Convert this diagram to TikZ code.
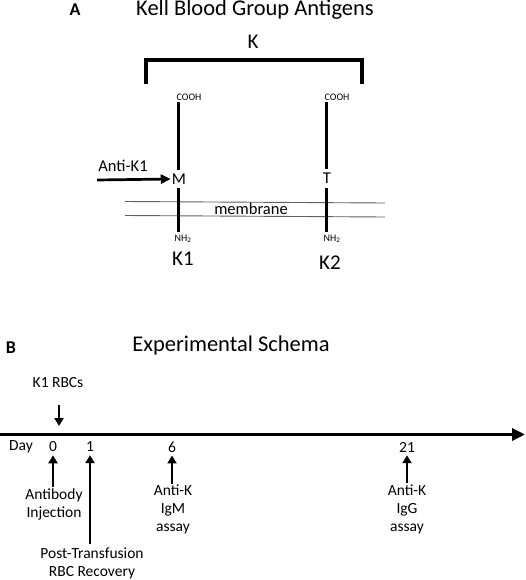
\documentclass[tikz,border=0pt]{standalone}
\usepackage{fontspec}
\setmainfont{Carlito}
\usetikzlibrary{arrows.meta}
\tikzset{
  lbl/.style={inner sep=0pt, font=\fontsize{15.5}{18}\selectfont, align=center},
  ttl/.style={inner sep=0pt, font=\fontsize{22.5}{25}\selectfont},
  panel/.style={inner sep=0pt, font=\fontsize{18}{20}\selectfont\bfseries},
  big/.style={inner sep=0pt, font=\fontsize{21}{23}\selectfont},
  mid/.style={inner sep=0pt, font=\fontsize{16.5}{18}\selectfont},
  tiny/.style={inner sep=0pt, font=\fontsize{10}{11}\selectfont},
  prot/.style={line width=3pt},
  memb/.style={draw=gray!75!black, line width=0.9pt},
  arr/.style={line width=2.7pt, -{Triangle[length=8pt,width=9pt]}},
}
\begin{document}
\begin{tikzpicture}[x=1pt,y=-1pt]
\useasboundingbox (0,0) rectangle (525,580);
% Panel A
\node[panel] (A) at (75,10) {A};
\node[ttl] (titleA) at (255,10) {Kell Blood Group Antigens};
\node[big] (K) at (253,42) {K};
\coordinate (bl) at (146,84);
\coordinate (br) at (362,84);
\draw[line width=3.2pt] (bl) -- (146,60) -- (362,60) -- (br);
% membrane
\coordinate (m1l) at (125,201.5);
\coordinate (m1r) at (385,203);
\coordinate (m2l) at (125,215.5);
\coordinate (m2r) at (385,217);
\draw[memb] (m1l) -- (m1r);
\draw[memb] (m2l) -- (m2r);
\node[mid] (memtxt) at (251,208.5) {membrane};
% K1 protein
\node[tiny] (cooh1) at (189,97) {COOH};
\node[mid] (M) at (179,179) {M};
\node[tiny] (nh1) at (183,239) {NH\textsubscript{2}};
\node[big] (K1) at (183,259) {K1};
\draw[prot] (178,102) -- (178,170);
\draw[prot] (178,188) -- (178,232);
% K2 protein
\node[tiny] (cooh2) at (337,97) {COOH};
\node[mid] (T) at (327,178) {T};
\node[tiny] (nh2) at (332,239) {NH\textsubscript{2}};
\node[big] (K2) at (330,263) {K2};
\draw[prot] (326,102) -- (326,169);
\draw[prot] (326,188) -- (326,232);
% anti-K1
\node[mid] (antiK1) at (123,166) {Anti-K1};
\coordinate (aK1s) at (97,180);
\draw[line width=2.7pt, -{Triangle[length=10pt,width=9pt]}] (aK1s) -- ([xshift=-1pt]M.west);
% Panel B
\node[panel] (B) at (11,348) {B};
\node[ttl] (titleB) at (231,345) {Experimental Schema};
\node[lbl] (rbc) at (58,383) {K1 RBCs};
\coordinate (dstart) at (59,405);
\coordinate (dend) at (59,426);
\draw[arr] (dstart) -- (dend);
\coordinate (tls) at (0,434.5);
\coordinate (tle) at (525,434.5);
\draw[line width=3.5pt, -{Triangle[length=13pt,width=12pt]}] (tls) -- (tle);
\node[lbl] (day) at (21,447) {Day};
\node[lbl] (d0) at (53,447) {0};
\node[lbl] (d1) at (90,447) {1};
\node[lbl] (d6) at (172,447) {6};
\node[lbl] (d21) at (407,447) {21};
\node[lbl] (ab) at (54,504) {Antibody\\Injection};
\node[lbl] (igm) at (173,509.5) {Anti-K\\IgM\\assay};
\node[lbl] (igg) at (407,509) {Anti-K\\IgG\\assay};
\node[lbl] (ptr) at (92,563) {Post-Transfusion\\RBC Recovery};
\draw[arr] (ab.north -| d0) ++(0,-1) -- ([yshift=-3pt]d0.south);
\draw[arr] (ptr.north -| d1) ++(0,-3) -- ([yshift=-3pt]d1.south);
\draw[arr] (igm.north -| d6) ++(0,-1) -- ([yshift=-3pt]d6.south);
\draw[arr] (igg.north -| d21) ++(0,-1) -- ([yshift=-3pt]d21.south);
\end{tikzpicture}
\end{document}
